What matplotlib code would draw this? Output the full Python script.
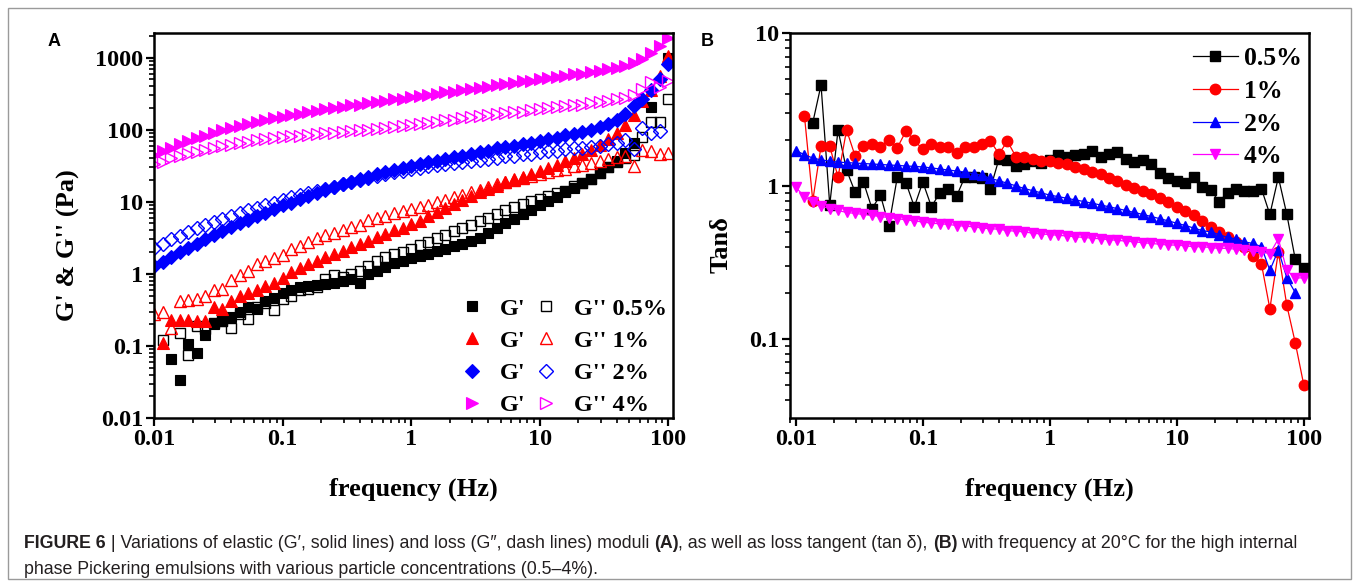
import numpy as np
import matplotlib
matplotlib.use("Agg")
import matplotlib.pyplot as plt
from matplotlib.patches import Rectangle
from matplotlib.ticker import LogLocator, FuncFormatter, NullFormatter

# ---------------- data ----------------
freq = [0.01, 0.0117, 0.0136, 0.0158, 0.0185, 0.0215, 0.0251, 0.0293, 0.0341, 0.0398, 0.0464, 0.0541, 0.0631, 0.0736, 0.0858,
        0.1, 0.117, 0.136, 0.158, 0.185, 0.215, 0.251, 0.293, 0.341, 0.398, 0.464, 0.541, 0.631, 0.736, 0.858,
        1, 1.17, 1.36, 1.58, 1.85, 2.15, 2.51, 2.93, 3.41, 3.98, 4.64, 5.41, 6.31, 7.36, 8.58,
        10, 11.7, 13.6, 15.8, 18.5, 21.5, 25.1, 29.3, 34.1, 39.8, 46.4, 54.1, 63.1, 73.6, 85.8, 100]

nan = float("nan")

# Panel A: G' (filled) and G'' (hollow), Pa
g1_05 = [nan, nan, 0.065, 0.034, 0.105, 0.08, 0.14, 0.2, 0.22, 0.25, 0.3, 0.35, 0.33, 0.42, 0.46,
         0.55, 0.6, 0.65, 0.68, 0.7, 0.72, 0.75, 0.8, 0.85, 0.75, 1.0, 1.1, 1.25, 1.4, 1.5,
         1.65, 1.75, 1.9, 2.05, 2.2, 2.4, 2.6, 2.85, 3.1, 3.7, 4.3, 5.0, 5.8, 6.7, 7.7,
         8.9, 10.3, 11.8, 13.5, 15.5, 18, 21, 25, 30, 37, 48, 65, nan, 205, nan, 1000]
g2_05 = [nan, 0.12, nan, 0.15, 0.076, 0.19, 0.17, 0.21, 0.22, 0.18, 0.28, 0.24, 0.35, 0.4, 0.32,
         0.45, 0.5, 0.6, 0.62, 0.65, 0.85, 0.95, 0.9, 1.0, 1.1, 1.3, 1.5, 1.7, 1.9, 2.0,
         2.2, 2.5, 2.8, 3.1, 3.5, 3.9, 4.3, 4.8, 5.4, 6.0, 6.8, 7.6, 8.4, 9.2, 10.1,
         11.0, 12.0, 13.1, 14.3, 16.5, 18.4, 21, 25, 30, 36, 40, 45, 80, 130, 130, 270]
g1_1 = [nan, 0.11, 0.23, 0.23, 0.23, 0.22, 0.22, 0.35, 0.33, 0.42, 0.5, 0.55, 0.6, 0.68, 0.75,
        0.88, 1.05, 1.2, 1.35, 1.5, 1.7, 1.9, 2.1, 2.35, 2.6, 2.9, 3.2, 3.6, 4.0, 4.4,
        4.9, 5.5, 6.3, 7.2, 8.3, 9.3, 10.7, 12.0, 13.5, 15.1, 16.6, 18.6, 20.4, 22.4, 24.5,
        26.9, 29.5, 32.4, 36.3, 40.7, 45.7, 52.5, 61.7, 74.1, 91.2, 117, 158, 251, 355, 562, 1047]
g2_1 = [0.28, 0.3, 0.18, 0.42, 0.43, 0.45, 0.5, 0.6, 0.62, 0.83, 0.95, 1.1, 1.35, 1.5, 1.66,
        1.85, 2.2, 2.4, 2.8, 3.1, 3.5, 3.7, 4.1, 4.5, 4.8, 5.6, 5.9, 6.4, 6.9, 7.4,
        7.9, 8.5, 9.1, 10, 10.7, 11.7, 12.6, 13.8, 14.8, 16.2, 17.4, 18.6, 20.0, 21.4, 22.9,
        24.5, 25.7, 27.5, 28.8, 30.9, 32.4, 34.7, 37.2, 38.9, 41.7, 43.7, 31, 52, 50, 46, 47]
g1_2 = [1.29, 1.48, 1.70, 2.0, 2.29, 2.63, 3.02, 3.47, 3.89, 4.47, 5.01, 5.62, 6.31, 7.08, 7.94,
        8.91, 9.77, 11.0, 12.0, 13.2, 14.5, 15.8, 17.4, 19.1, 20.9, 22.4, 24.0, 25.7, 27.5, 29.5,
        31.6, 33.1, 35.5, 37.2, 39.8, 41.7, 43.7, 46.8, 49.0, 51.3, 55.0, 57.5, 60.3, 63.1, 66.1,
        70.8, 74.1, 77.6, 83.2, 87.1, 93.3, 100, 110, 120, 138, 166, 214, 263, 355, 501, 813]
g2_2 = [2.29, 2.63, 3.02, 3.39, 3.80, 4.27, 4.79, 5.25, 5.75, 6.31, 6.92, 7.59, 8.32, 9.12, 9.77,
        10.7, 11.5, 12.3, 13.2, 14.1, 15.1, 16.2, 17.4, 18.6, 20.0, 21.4, 22.9, 24.0, 25.7, 26.9,
        28.2, 29.5, 30.9, 32.4, 33.1, 34.7, 35.5, 37.2, 38.0, 39.8, 40.7, 42.7, 43.7, 45.7, 46.8,
        49.0, 50.1, 51.3, 53.7, 55.0, 56.2, 57.5, 60.3, 63.1, 66.1, 72.4, 54, 107, 89, 95, nan]
g1_4 = [45, 50, 56, 63, 69, 76, 83, 91, 98, 105, 112, 120, 129, 138, 145,
        151, 158, 166, 174, 182, 191, 200, 209, 219, 224, 234, 245, 251, 263, 269,
        282, 295, 302, 316, 331, 339, 355, 372, 380, 398, 417, 427, 447, 468, 479,
        501, 525, 537, 562, 589, 603, 631, 661, 692, 724, 776, 851, 955, 1148, 1445, 1905]
g2_4 = [33, 36, 40, 43, 46, 49, 52, 56, 59, 62, 65, 68, 71, 74, 78,
        79, 81, 83, 85, 87, 89, 91, 93, 95, 98, 100, 102, 107, 110, 112,
        117, 120, 126, 129, 135, 138, 145, 148, 155, 158, 166, 170, 174, 178, 186,
        191, 200, 204, 214, 219, 224, 234, 240, 251, 263, 275, 302, 363, 457, 398, 479]

# Panel B: tan delta
tan_05 = [nan, nan, 2.59, 4.57, 0.75, 2.32, 1.27, 0.91, 1.06, 0.71, 0.87, 0.55, 1.15, 1.05, 0.73,
          1.06, 0.73, 0.90, 0.95, 0.86, 1.15, 1.15, 1.12, 0.96, 1.50, 1.48, 1.35, 1.38, 1.45, 1.42,
          1.48, 1.59, 1.55, 1.58, 1.62, 1.70, 1.55, 1.62, 1.66, 1.50, 1.43, 1.47, 1.39, 1.21, 1.12,
          1.07, 1.05, 1.15, 0.98, 0.94, 0.79, 0.90, 0.95, 0.92, 0.92, 0.96, 0.65, 1.14, 0.65, 0.33, 0.29]
tan_1 = [nan, 2.86, 0.80, 1.82, 1.82, 1.14, 2.32, 1.57, 1.82, 1.87, 1.80, 1.99, 1.78, 2.28, 1.99,
         1.73, 1.87, 1.80, 1.80, 1.65, 1.80, 1.80, 1.87, 1.96, 1.62, 1.96, 1.55, 1.54, 1.50, 1.46,
         1.46, 1.42, 1.38, 1.33, 1.29, 1.24, 1.19, 1.13, 1.07, 1.02, 0.97, 0.93, 0.89, 0.83, 0.78,
         0.73, 0.68, 0.64, 0.59, 0.54, 0.50, 0.46, 0.43, 0.40, 0.35, 0.31, 0.157, 0.37, 0.165, 0.094, 0.05]
tan_2 = [1.70, 1.60, 1.52, 1.48, 1.45, 1.43, 1.42, 1.41, 1.40, 1.39, 1.38, 1.37, 1.36, 1.35, 1.34,
         1.33, 1.31, 1.29, 1.27, 1.25, 1.23, 1.20, 1.17, 1.12, 1.08, 1.04, 1.00, 0.96, 0.93, 0.90,
         0.87, 0.85, 0.83, 0.81, 0.79, 0.77, 0.75, 0.73, 0.71, 0.69, 0.67, 0.65, 0.63, 0.61, 0.59,
         0.57, 0.55, 0.53, 0.51, 0.50, 0.48, 0.46, 0.45, 0.43, 0.42, 0.40, 0.28, 0.38, 0.25, 0.20, nan]
tan_4 = [0.98, 0.85, 0.78, 0.74, 0.71, 0.69, 0.67, 0.66, 0.65, 0.64, 0.63, 0.62, 0.61, 0.60, 0.59,
         0.58, 0.57, 0.565, 0.56, 0.55, 0.545, 0.54, 0.53, 0.525, 0.52, 0.51, 0.505, 0.50, 0.49, 0.485,
         0.48, 0.475, 0.47, 0.465, 0.46, 0.455, 0.45, 0.445, 0.44, 0.435, 0.43, 0.425, 0.42, 0.415, 0.41,
         0.41, 0.405, 0.40, 0.40, 0.395, 0.39, 0.39, 0.385, 0.38, 0.375, 0.37, 0.36, 0.45, 0.28, 0.25, 0.25]

conc_labels = ["0.5%", "1%", "2%", "4%"]
colors = ["#000000", "#ff0000", "#0000ff", "#ff00ff"]
markersA = ["s", "^", "D", ">"]
markersB = ["s", "o", "^", "v"]

# ---------------- figure ----------------
W, H = 1359, 587
fig = plt.figure(figsize=(W / 100, H / 100), dpi=100)
serif = ["Liberation Serif", "DejaVu Serif"]
sans = ["Liberation Sans", "DejaVu Sans"]

def px_rect(l, t, r, b):
    return [l / W, 1 - b / H, (r - l) / W, (b - t) / H]

axA = fig.add_axes(px_rect(154, 33, 673, 418))
axB = fig.add_axes(px_rect(790, 33, 1309, 418))

tick_fs = 17.5
lab_fs = 19

def style_axis(ax):
    ax.set_xscale("log")
    ax.set_yscale("log")
    for s in ax.spines.values():
        s.set_linewidth(1.8)
    ax.tick_params(which="major", direction="out", length=6, width=1.6,
                   top=False, right=False, pad=2)
    ax.tick_params(which="minor", direction="out", length=3.5, width=1.2,
                   top=False, right=False)
    fmt = FuncFormatter(lambda v, p: f"{v:g}")
    ax.xaxis.set_major_locator(LogLocator(base=10, numticks=20))
    ax.yaxis.set_major_locator(LogLocator(base=10, numticks=20))
    ax.xaxis.set_minor_locator(LogLocator(base=10, subs=np.arange(2, 10), numticks=20))
    ax.yaxis.set_minor_locator(LogLocator(base=10, subs=np.arange(2, 10), numticks=20))
    ax.xaxis.set_major_formatter(fmt)
    ax.yaxis.set_major_formatter(fmt)
    ax.xaxis.set_minor_formatter(NullFormatter())
    ax.yaxis.set_minor_formatter(NullFormatter())
    for lbl in ax.get_xticklabels() + ax.get_yticklabels():
        lbl.set_fontfamily(serif)
        lbl.set_fontweight("bold")
        lbl.set_fontsize(tick_fs)

# ---- Panel A ----
Gp = [g1_05, g1_1, g1_2, g1_4]
Gpp = [g2_05, g2_1, g2_2, g2_4]
ms_A = [7, 8.5, 7.5, 8.5]
filled_h, hollow_h = [], []
for i in range(4):
    h1, = axA.plot(freq, Gp[i], linestyle="none", marker=markersA[i], ms=ms_A[i],
                   mfc=colors[i], mec=colors[i], mew=0.8)
    h2, = axA.plot(freq, Gpp[i], linestyle="none", marker=markersA[i], ms=ms_A[i],
                   mfc="none", mec=colors[i], mew=1.0)
    filled_h.append(h1)
    hollow_h.append(h2)

axA.set_xlim(0.01, 109)
axA.set_ylim(0.01, 2200)
style_axis(axA)
axA.set_xlabel("frequency (Hz)", fontfamily=serif, fontweight="bold", fontsize=lab_fs)
axA.set_ylabel("G' & G'' (Pa)", fontfamily=serif, fontweight="bold", fontsize=lab_fs)
axA.xaxis.set_label_coords(0.5, -0.155)
axA.yaxis.set_label_coords(-0.142, 0.45)

legA = axA.legend(filled_h + hollow_h,
                  ["G'"] * 4 + ["G'' " + c for c in conc_labels],
                  ncol=2, loc="lower right", bbox_to_anchor=(1.01, -0.024),
                  frameon=False, handlelength=0.6, handletextpad=0.85,
                  columnspacing=0.55, labelspacing=0.42, borderaxespad=0.05,
                  prop={"family": serif, "weight": "bold", "size": 17.5})

# ---- Panel B ----
tans = [tan_05, tan_1, tan_2, tan_4]
for i in range(4):
    axB.plot(freq, tans[i], linestyle="-", lw=0.9, color=colors[i], marker=markersB[i],
             ms=7.5, mfc=colors[i], mec=colors[i], label=conc_labels[i])
axB.set_xlim(0.009, 110)
axB.set_ylim(0.0303, 10)
style_axis(axB)
axB.set_xlabel("frequency (Hz)", fontfamily=serif, fontweight="bold", fontsize=lab_fs)
axB.set_ylabel("Tanδ", fontfamily=serif, fontweight="bold", fontsize=lab_fs)
axB.xaxis.set_label_coords(0.5, -0.155)
axB.yaxis.set_label_coords(-0.11, 0.45)
axB.legend(loc="upper right", bbox_to_anchor=(1.0135, 1.0), frameon=False,
           handlelength=1.75, handletextpad=0.25,
           labelspacing=0.38, borderaxespad=0.15,
           prop={"family": serif, "weight": "bold", "size": 18.5})

# panel letters
fig.text(54 / W, 1 - 42 / H, "A", fontfamily=sans, fontweight="bold", fontsize=13,
         ha="center", va="center")
fig.text(707 / W, 1 - 42 / H, "B", fontfamily=sans, fontweight="bold", fontsize=13,
         ha="center", va="center")

# border
fig.patches.append(Rectangle((8 / W, 8 / H), (1351 - 8) / W, (579 - 8) / H,
                             transform=fig.transFigure, fill=False,
                             edgecolor="#9a9a9a", lw=1.0))

# caption
cap_fam = ["Liberation Sans", "DejaVu Sans"]
cap_col = "#231f20"
line1 = [("FIGURE 6", "bold"), (" | Variations of elastic (G′, solid lines) and loss (G″, dash lines) moduli ", "normal"),
         ("(A)", "bold"), (", as well as loss tangent (tan δ), ", "normal"), ("(B)", "bold"),
         (" with frequency at 20°C for the high internal", "normal")]
line2 = [("phase Pickering emulsions with various particle concentrations (0.5–4%).", "normal")]

fig.canvas.draw()
renderer = fig.canvas.get_renderer()

def runs_width(runs, fs):
    tot = 0
    for txt, w in runs:
        t = fig.text(0, 0, txt, fontfamily=cap_fam, fontweight=w, fontsize=fs)
        tot += t.get_window_extent(renderer=renderer).width
        t.remove()
    return tot

base_fs = 11.5
cap_fs = base_fs * (1280 / runs_width(line1, base_fs))

def draw_runs(runs, x0, y0):
    x = x0
    for txt, w in runs:
        t = fig.text(x / W, 1 - y0 / H, txt, fontfamily=cap_fam, fontweight=w,
                     fontsize=cap_fs, color=cap_col, ha="left", va="baseline")
        bb = t.get_window_extent(renderer=renderer)
        x += bb.width

draw_runs(line1, 24, 548)
draw_runs(line2, 24, 574)

fig.savefig("out.png", dpi=100)
